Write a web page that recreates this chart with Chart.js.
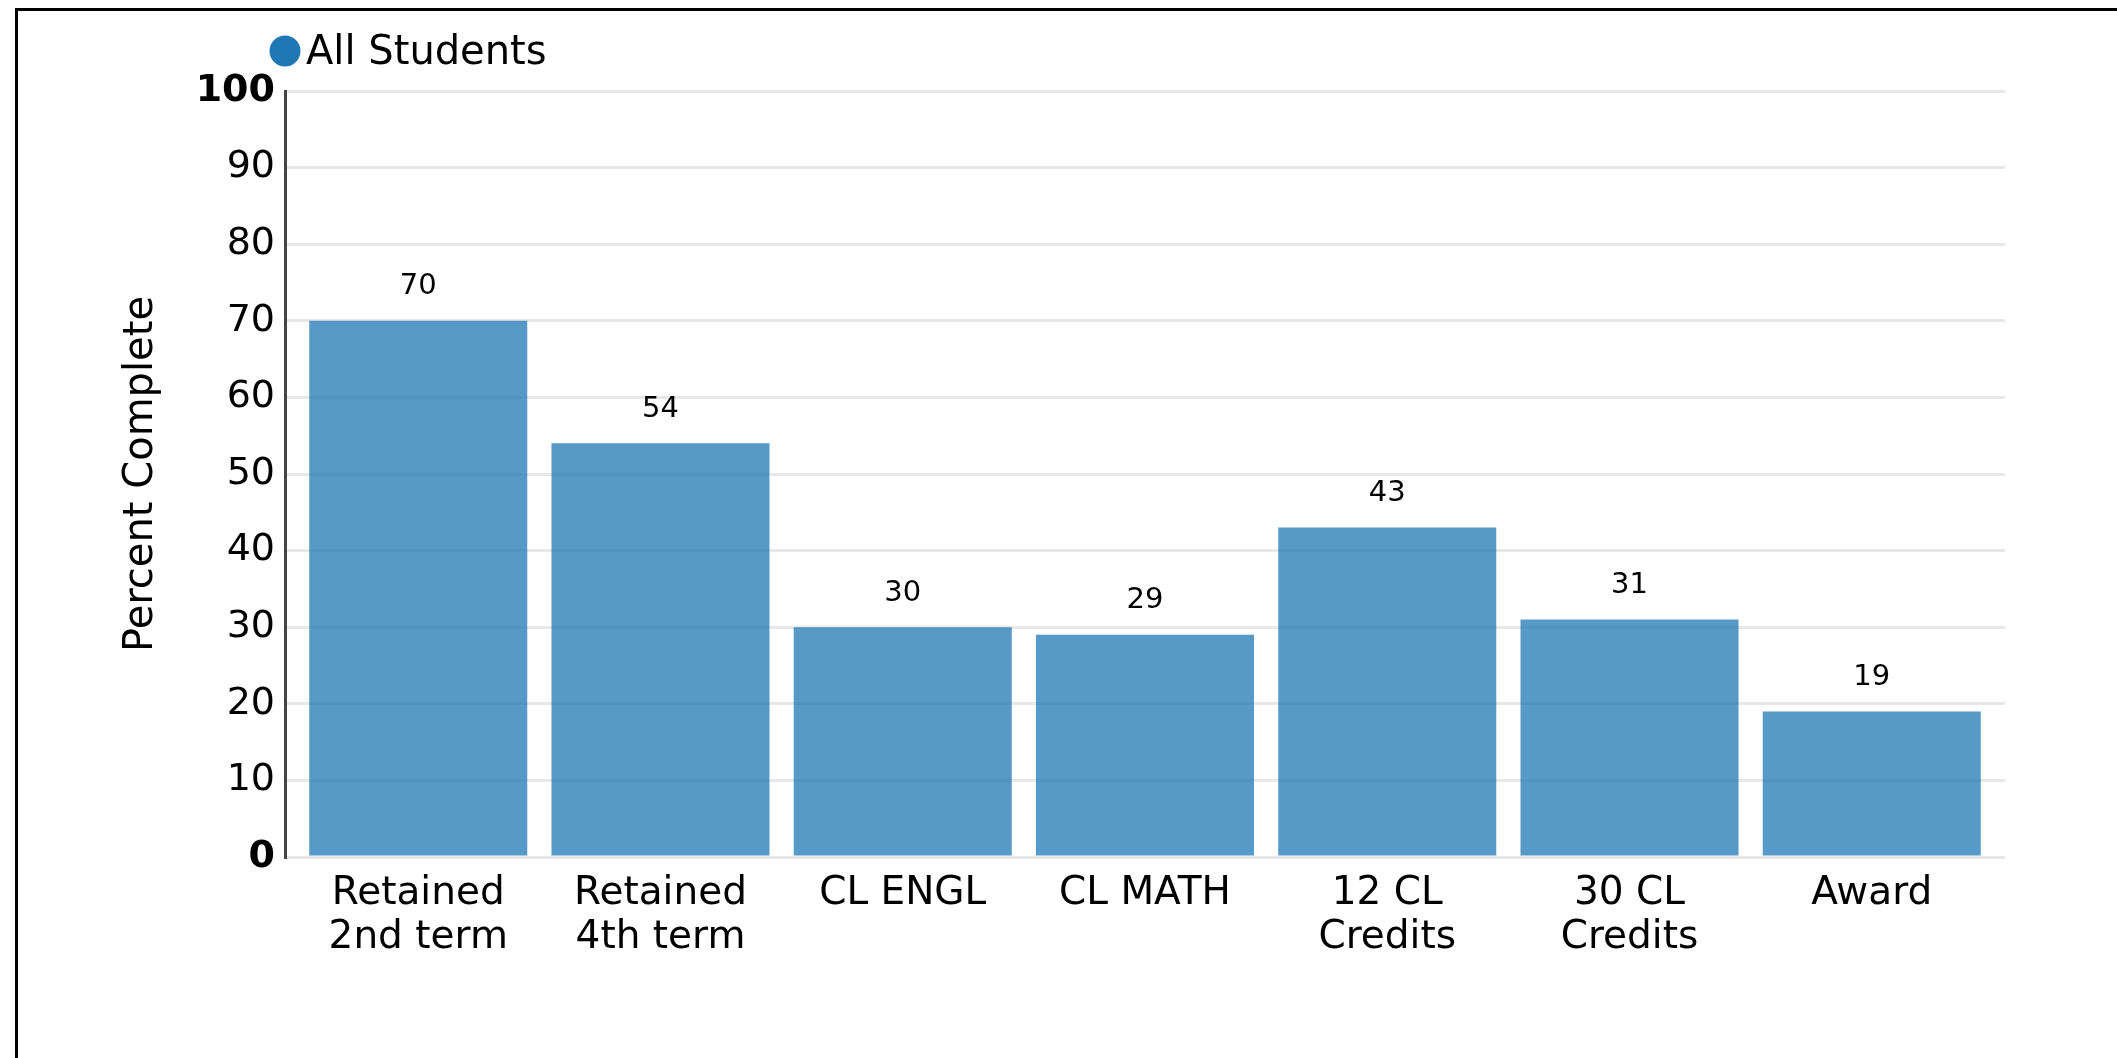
<!DOCTYPE html>
<html>
<head>
<meta charset="utf-8">
<script src="https://cdn.jsdelivr.net/npm/chart.js@4/dist/chart.umd.min.js"></script>
<style>
  html, body { margin: 0; padding: 0; background: #fff; overflow: hidden; }
  .frame {
    position: absolute; left: 15px; top: 8px; width: 2200px; height: 1200px;
    border-left: 3px solid #000; border-top: 3px solid #000;
  }
  #chart { position: absolute; left: 0; top: 0; }
</style>
</head>
<body>
<div class="frame"></div>
<canvas id="chart" width="2117" height="1058"></canvas>
<script>
const categories = [
  ['Retained', '2nd term'],
  ['Retained', '4th term'],
  'CL ENGL',
  'CL MATH',
  ['12 CL', 'Credits'],
  ['30 CL', 'Credits'],
  'Award'
];
const seriesName = 'All Students';
const seriesValues = [70, 54, 30, 29, 43, 31, 19];
const yTicks = [0, 10, 20, 30, 40, 50, 60, 70, 80, 90, 100];

const FONT = '"DejaVu Sans", sans-serif';

// value labels above each bar
const barLabels = {
  id: 'barLabels',
  afterDatasetsDraw(chart) {
    const ctx = chart.ctx;
    const meta = chart.getDatasetMeta(0);
    ctx.save();
    ctx.font = '29px ' + FONT;
    ctx.fillStyle = '#000';
    ctx.textAlign = 'center';
    ctx.textBaseline = 'middle';
    meta.data.forEach((bar, i) => {
      ctx.fillText(String(seriesValues[i]), bar.x, bar.y - 34);
    });
    ctx.restore();
  }
};

// simple legend in the top-left corner of the plot
const cornerLegend = {
  id: 'cornerLegend',
  afterDraw(chart) {
    const ctx = chart.ctx;
    const area = chart.chartArea;
    const ds = chart.data.datasets[0];
    const cy = area.top - 40;
    ctx.save();
    ctx.fillStyle = '#1f77b4';
    ctx.beginPath();
    ctx.arc(area.left, cy, 15.5, 0, Math.PI * 2);
    ctx.fill();
    ctx.font = '40px ' + FONT;
    ctx.fillStyle = '#000';
    ctx.textAlign = 'left';
    ctx.textBaseline = 'middle';
    ctx.fillText(ds.label, area.left + 21, cy + 3);
    ctx.restore();
  }
};

new Chart(document.getElementById('chart'), {
  type: 'bar',
  data: {
    datasets: [{
      label: seriesName,
      data: seriesValues.map((v, i) => ({ x: i, y: v })),
      backgroundColor: 'rgba(31, 119, 180, 0.75)',
      borderWidth: 0,
      barPercentage: 0.9,
      categoryPercentage: 1
    }]
  },
  options: {
    responsive: false,
    animation: false,
    layout: {
      padding: { left: 114, right: 112, top: 91, bottom: 0 }
    },
    plugins: {
      legend: { display: false },
      tooltip: { enabled: false }
    },
    scales: {
      x: {
        type: 'linear',
        offset: false,
        min: -0.55,
        max: categories.length - 0.45,
        afterBuildTicks: s => { s.ticks = categories.map((c, i) => ({ value: i })); },
        grid: { display: false },
        border: { display: false },
        ticks: {
          color: '#000',
          padding: 7,
          maxRotation: 0,
          autoSkip: false,
          callback: v => categories[v],
          font: { family: FONT, size: 39, lineHeight: 1.12 }
        },
        afterFit: s => { s.height = 201; }
      },
      y: {
        min: 0,
        max: 100,
        afterBuildTicks: s => { s.ticks = yTicks.map(v => ({ value: v })); },
        grid: { color: '#e8e8e8', lineWidth: 3, drawTicks: false },
        border: { color: '#444', width: 3 },
        ticks: {
          color: '#000',
          padding: 10,
          font: ctx => ({
            family: FONT,
            size: 38,
            weight: (ctx.tick && (ctx.tick.value === 0 || ctx.tick.value === 100)) ? 'bold' : 'normal'
          })
        },
        title: {
          display: true,
          text: 'Percent Complete',
          color: '#000',
          padding: { top: 4, bottom: 0 },
          font: { family: FONT, size: 40 }
        },
        afterFit: s => { s.width = 171; }
      }
    }
  },
  plugins: [barLabels, cornerLegend]
});
</script>
</body>
</html>
